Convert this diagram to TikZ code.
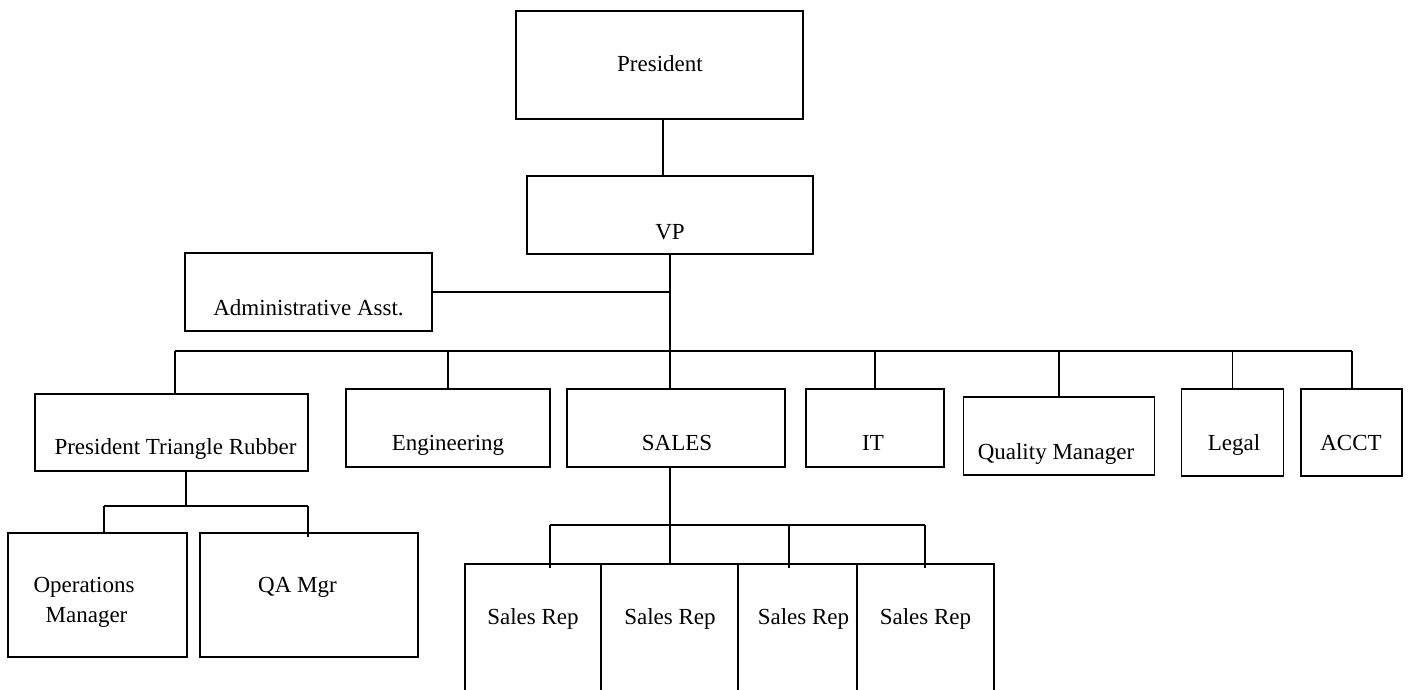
\documentclass[tikz,border=0pt]{standalone}
\usepackage{fontspec}
\setmainfont{Liberation Serif}
\begin{document}
\begin{tikzpicture}[x=1pt,y=-1pt,
  box/.style={draw=black,line width=1.3pt,inner sep=0pt,outer sep=0pt,rectangle},
  wbox/.style={box,fill=white},
  lbl/.style={anchor=base,inner sep=0pt,font=\fontsize{23}{27}\selectfont},
  conn/.style={draw=black,line width=1.2pt}]
\useasboundingbox (0,0) rectangle (1408,690);
\clip (0,0) rectangle (1408,690);
\fill[white] (0,0) rectangle (1408,690);
% boxes (centre, size)
\node[box,minimum width=287pt,minimum height=108pt] (pres) at (659.5,65) {};
\node[box,minimum width=286pt,minimum height=78pt] (vp) at (670,215) {};
\node[box,minimum width=247pt,minimum height=78pt] (admin) at (308.5,292) {};
\node[box,minimum width=273pt,minimum height=77pt] (ptr) at (171.5,432.5) {};
\node[box,minimum width=204pt,minimum height=78pt] (eng) at (448,428) {};
\node[box,minimum width=218pt,minimum height=78pt] (sales) at (676,428) {};
\node[box,minimum width=138pt,minimum height=78pt] (it) at (875,428) {};
\node[box,minimum width=191pt,minimum height=78pt] (qm) at (1059,436) {};
\node[box,minimum width=102pt,minimum height=87pt] (legal) at (1232.5,432.5) {};
\node[box,minimum width=101pt,minimum height=87pt] (acct) at (1351.5,432.5) {};
\node[box,minimum width=179pt,minimum height=124pt] (ops) at (97.5,595) {};
\node[box,minimum width=218pt,minimum height=124pt] (qa) at (309,595) {};
\node[box,minimum width=136pt,minimum height=156pt] (sr1) at (533,642) {};
\node[box,minimum width=137pt,minimum height=156pt] (sr2) at (669.5,642) {};
\node[box,minimum width=132pt,minimum height=156pt] (sr3) at (804,642) {};
\node[wbox,minimum width=137pt,minimum height=156pt] (sr4) at (925.5,642) {};
% labels
\node[lbl] (presT) at (660,72) {President};
\node[lbl] (vpT) at (670,239) {VP};
\node[lbl] (adminT) at (308.5,315) {Administrative Asst.};
\node[lbl] (ptrT) at (175.5,454) {President Triangle Rubber};
\node[lbl] (engT) at (448,450) {Engineering};
\node[lbl] (salesT) at (677,450) {SALES};
\node[lbl] (itT) at (873,450) {IT};
\node[lbl] (qmT) at (1056,459) {Quality Manager};
\node[lbl] (legalT) at (1234,450) {Legal};
\node[lbl] (acctT) at (1351,450) {ACCT};
\node[lbl] (opsT1) at (84,592) {Operations};
\node[lbl] (opsT2) at (86.5,622) {Manager};
\node[lbl] (qaT) at (297.5,592) {QA Mgr};
\node[lbl] (sr1T) at (533,624) {Sales Rep};
\node[lbl] (sr2T) at (670,624) {Sales Rep};
\node[lbl] (sr3T) at (803.5,624) {Sales Rep};
\node[lbl] (sr4T) at (925.5,624) {Sales Rep};
% junction coordinates
\coordinate (pvTop) at (663,119);
\coordinate (vpBot) at (670,254);
\coordinate (adminJ) at (670,292);
\coordinate (busL) at (175,351);
\coordinate (busM) at (670,351);
\coordinate (busR) at (1352,351);
\coordinate (ptrJ) at (186,506);
\coordinate (subL) at (104,506);
\coordinate (subR) at (308,506);
\coordinate (salesJ) at (670,525);
\coordinate (ssL) at (550,525);
\coordinate (ssM) at (789,525);
\coordinate (ssR) at (925,525);
% connectors
\draw[conn] (pvTop) -- (vp.north -| pvTop);
\draw[conn] (vpBot) -- (adminJ) -- (busM);
\draw[conn] (admin.east) -- (adminJ);
\draw[conn] (busL) -- (busR);
\draw[conn] (busL) -- (ptr.north -| busL);
\draw[conn] (busM -| eng.north) -- (eng.north);
\draw[conn] (busM) -- (sales.north -| busM);
\draw[conn] (busM -| it.north) -- (it.north);
\draw[conn] (busM -| qm.north) -- (qm.north);
\draw[conn] (busM -| legal.north) -- (legal.north);
\draw[conn] (busR) -- (acct.north -| busR);
\draw[conn] (ptr.south -| ptrJ) -- (ptrJ);
\draw[conn] (subL) -- (subR);
\draw[conn] (subL) -- (ops.north -| subL);
\draw[conn] (subR) -- ([yshift=-4pt]qa.north -| subR);
\draw[conn] (sales.south -| salesJ) -- (salesJ);
\draw[conn] (ssL) -- (ssR);
\draw[conn] (ssL) -- ([yshift=-4pt]sr1.north -| ssL);
\draw[conn] (salesJ) -- (sr2.north -| salesJ);
\draw[conn] (ssM) -- ([yshift=-4pt]sr3.north -| ssM);
\draw[conn] (ssR) -- ([yshift=-4pt]sr4.north -| ssR);
\end{tikzpicture}
\end{document}
